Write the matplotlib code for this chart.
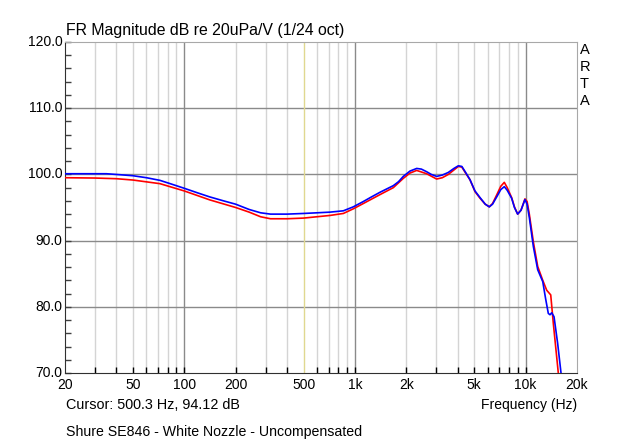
import matplotlib
matplotlib.use("Agg")
import matplotlib.pyplot as plt
from matplotlib.ticker import FixedLocator, NullFormatter

plt.rcParams['font.family'] = ['Liberation Sans', 'DejaVu Sans']

# measured curves (Hz, dB)
freq_blue = [20, 25, 35, 42, 50, 60, 72, 85, 100, 120, 141, 170, 200, 240, 280,
             320, 400, 500, 600, 714, 855, 978, 1119, 1250, 1402, 1678, 1800,
             1920, 2100, 2300, 2450, 2632, 2800, 3010, 3250, 3525, 3800, 4035,
             4230, 4450, 4720, 5050, 5405, 5800, 6125, 6400, 6770, 7150, 7500,
             7800, 8280, 8600, 8980, 9400, 9910, 10200, 10510, 11100, 11770,
             12600, 13100, 13580, 13900, 14220, 14670, 15400, 16120, 16400]
db_blue = [100.1, 100.1, 100.1, 99.95, 99.8, 99.5, 99.1, 98.5, 97.9, 97.2, 96.6,
           96.0, 95.5, 94.7, 94.2, 94.0, 94.0, 94.1, 94.2, 94.3, 94.5, 95.1,
           95.9, 96.6, 97.3, 98.3, 98.9, 99.7, 100.5, 100.9, 100.8, 100.4,
           100.0, 99.7, 99.9, 100.3, 100.9, 101.3, 101.2, 100.3, 99.2, 97.5,
           96.5, 95.5, 95.1, 95.5, 96.6, 97.7, 98.15, 97.6, 96.4, 95.0, 94.0,
           94.6, 96.2, 95.5, 93.5, 89.1, 85.6, 83.8, 81.2, 79.0, 78.8, 79.1,
           78.5, 74.5, 70.0, 69.0]

freq_red = [20, 30, 40, 50, 72, 100, 141, 200, 240, 280, 320, 400, 500, 714,
            855, 978, 1119, 1402, 1678, 1920, 2100, 2300, 2632, 3010, 3250,
            3525, 4035, 4230, 4450, 4720, 5050, 5405, 5800, 6125, 6400, 6770,
            7150, 7500, 7800, 8280, 8600, 8980, 9400, 9910, 10200, 10510,
            11100, 11770, 12600, 13290, 14030, 14530, 15540, 15800]
db_red = [99.5, 99.45, 99.35, 99.15, 98.6, 97.5, 96.15, 95.0, 94.3, 93.6, 93.3,
          93.3, 93.4, 93.8, 94.1, 94.8, 95.6, 96.95, 98.0, 99.4, 100.2, 100.6,
          100.1, 99.3, 99.5, 100.0, 101.2, 101.1, 100.2, 99.2, 97.4, 96.4,
          95.5, 95.1, 95.6, 96.9, 98.2, 98.8, 98.0, 96.5, 95.1, 94.0, 94.6,
          96.3, 95.9, 94.0, 89.8, 86.1, 84.0, 82.5, 81.8, 77.5, 70.0, 69.0]

minor_grid = [30, 40, 50, 60, 70, 80, 90, 200, 300, 400, 600, 700, 800, 900,
              2000, 3000, 4000, 5000, 6000, 7000, 8000, 9000]
major_grid = [100, 1000, 10000]
xtick_pos = [20, 50, 100, 200, 500, 1000, 2000, 5000, 10000, 20000]
xtick_lab = ['20', '50', '100', '200', '500', '1k', '2k', '5k', '10k', '20k']
ytick_pos = [70, 80, 90, 100, 110, 120]
ytick_lab = ['70.0', '80.0', '90.0', '100.0', '110.0', '120.0']
cursor_f = 500

fig = plt.figure(figsize=(6.4, 4.44), dpi=100)
ax = fig.add_axes([65 / 640, 1 - 373 / 444, 512 / 640, 331 / 444])
ax.set_xscale('log')
ax.set_xlim(20, 20000)
ax.set_ylim(70, 120)

for f in minor_grid:
    ax.axvline(f, color='#d4d4d4', lw=1, zorder=1)
for f in major_grid:
    ax.axvline(f, color='#8a8a8a', lw=1, zorder=1)
for d in [80, 90, 100, 110]:
    ax.axhline(d, color='#8a8a8a', lw=1, zorder=1)
ax.axvline(cursor_f, color='#e0d890', lw=1, zorder=1)

ax.plot(freq_red, db_red, color='#ff0000', lw=1.2, zorder=3)
ax.plot(freq_blue, db_blue, color='#0000ff', lw=1.2, zorder=4)

ax.xaxis.set_major_locator(FixedLocator(minor_grid + major_grid))
ax.xaxis.set_major_formatter(NullFormatter())
ax.xaxis.set_minor_locator(FixedLocator([]))
ax.tick_params(axis='x', direction='in', length=4, color='black', width=1)
ax.yaxis.set_major_locator(FixedLocator(range(70, 121, 2)))
ax.yaxis.set_major_formatter(NullFormatter())
ax.tick_params(axis='y', direction='in', length=4, color='#404040', width=1)

for f, s in zip(xtick_pos, xtick_lab):
    ax.text(f, 68.2, s, ha='center', va='center', fontsize=10)
for d, s in zip(ytick_pos, ytick_lab):
    ax.text(-0.005, d, s, ha='right', va='center', fontsize=10,
            transform=ax.get_yaxis_transform())

for side in ['top', 'right']:
    ax.spines[side].set_color('#a8a8a8')
for side in ['left', 'bottom']:
    ax.spines[side].set_color('#303030')

fig.text(66 / 640, 1 - 30 / 444, 'FR Magnitude dB re 20uPa/V (1/24 oct)',
         ha='left', va='center', fontsize=11.4)
fig.text(66 / 640, 1 - 405 / 444, 'Cursor: 500.3 Hz, 94.12 dB',
         ha='left', va='center', fontsize=10.4)
fig.text(577 / 640, 1 - 405 / 444, 'Frequency (Hz)',
         ha='right', va='center', fontsize=10)
fig.text(66 / 640, 1 - 432 / 444, 'Shure SE846 - White Nozzle - Uncompensated',
         ha='left', va='center', fontsize=10.2)
for i, ch in enumerate('ARTA'):
    fig.text(580 / 640, 1 - (50 + i * 17) / 444, ch, ha='left', va='center',
             fontsize=10.5)

fig.savefig('out.png', dpi=100)
